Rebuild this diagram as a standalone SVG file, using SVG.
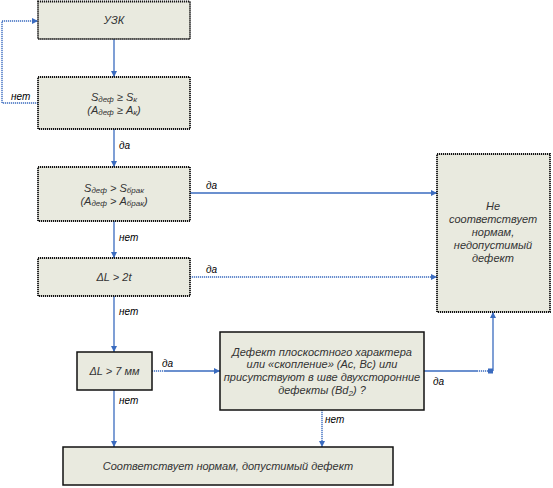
<svg xmlns="http://www.w3.org/2000/svg" width="553" height="488" viewBox="0 0 553 488">
<defs>
<marker id="arr" markerUnits="userSpaceOnUse" markerWidth="7" markerHeight="7" refX="6" refY="3.5" orient="auto">
<path d="M0,0.5 L6,3.5 L0,6.5 z" fill="#3A6BBF"/>
</marker>
</defs>
<style>
.box{fill:#E9EADF;stroke:#111;stroke-width:1.5}
.dot{stroke-width:1.8;stroke-dasharray:1.2 0.8}
.t{font-family:"Liberation Sans",Arial,sans-serif;font-style:italic;font-size:11px;fill:#333;text-anchor:middle}
.s{font-size:8px}
.lbl{font-family:"Liberation Sans",Arial,sans-serif;font-style:italic;font-size:10px;fill:#000}
.c{fill:none;stroke:#3A6BBF;stroke-width:1.3}
.cd{fill:none;stroke:#3A6BBF;stroke-width:1.4;stroke-dasharray:1.2 0.8}
</style>
<g id="connectors">
<path class="c" d="M114,39 V77" marker-end="url(#arr)"/>
<path class="cd" d="M38,103 H2 V21 H38" marker-end="url(#arr)"/>
<path class="c" d="M114,129 V167" marker-end="url(#arr)"/>
<path class="c" d="M190,193 H437" marker-end="url(#arr)"/>
<path class="c" d="M114,221 V258" marker-end="url(#arr)"/>
<path class="cd" d="M190,277 H437" marker-end="url(#arr)"/>
<path class="c" d="M114,296 V352" marker-end="url(#arr)"/>
<path class="cd" d="M152,371 H164"/>
<path class="c" d="M164,371 H220" marker-end="url(#arr)"/>
<path class="c" d="M114,390 V447" marker-end="url(#arr)"/>
<path class="cd" d="M322,410 V447" marker-end="url(#arr)"/>
<path class="c" d="M424,371 H477"/>
<path class="cd" d="M477,371 H491"/>
<path class="c" d="M493,371 V312" marker-end="url(#arr)"/>
<rect x="488" y="368.5" width="5" height="5" fill="#3A6BBF"/>
<text class="lbl" x="11" y="100">нет</text>
<text class="lbl" x="119" y="149">да</text>
<text class="lbl" x="206" y="189">да</text>
<text class="lbl" x="119" y="241">нет</text>
<text class="lbl" x="206" y="273">да</text>
<text class="lbl" x="119" y="315">нет</text>
<text class="lbl" x="162" y="367">да</text>
<text class="lbl" x="119" y="404">нет</text>
<text class="lbl" x="433" y="385">да</text>
<text class="lbl" x="325" y="423">нет</text>
</g>
<g id="uzk">
<rect class="box dot" x="38" y="1.5" width="152" height="37.5"/>
<text class="t" x="114" y="24">УЗК</text>
</g>
<g id="cond1">
<rect class="box dot" x="38" y="77" width="152" height="52"/>
<text class="t" x="114" y="101">S<tspan class="s" dy="1">деф</tspan><tspan dy="-1"> ≥ S</tspan><tspan class="s" dy="1">к</tspan></text>
<text class="t" x="114" y="114">(A<tspan class="s" dy="1">деф</tspan><tspan dy="-1"> ≥ A</tspan><tspan class="s" dy="1">к</tspan><tspan dy="-1">)</tspan></text>
</g>
<g id="cond2">
<rect class="box dot" x="38" y="167" width="152" height="54"/>
<text class="t" x="114" y="192">S<tspan class="s" dy="1">деф</tspan><tspan dy="-1"> &gt; S</tspan><tspan class="s" dy="1">брак</tspan></text>
<text class="t" x="114" y="205">(A<tspan class="s" dy="1">деф</tspan><tspan dy="-1"> &gt; A</tspan><tspan class="s" dy="1">брак</tspan><tspan dy="-1">)</tspan></text>
</g>
<g id="cond3">
<rect class="box dot" x="38" y="258" width="152" height="38"/>
<text class="t" x="114" y="281">ΔL &gt; 2t</text>
</g>
<g id="cond4">
<rect class="box" x="77" y="352" width="75" height="38"/>
<text class="t" x="114.5" y="375">ΔL &gt; 7 мм</text>
</g>
<g id="cond5">
<rect class="box" x="220" y="332" width="204" height="78"/>
<text class="t" x="322" y="356">Дефект плоскостного характера</text>
<text class="t" x="322" y="368">или «скопление» (Ac, Bc) или</text>
<text class="t" x="322" y="381">присутствуют в шве двухсторонние</text>
<text class="t" x="322" y="394">дефекты (Bd<tspan class="s" dy="2">2</tspan><tspan dy="-2">) ?</tspan></text>
</g>
<g id="reject">
<rect class="box dot" x="437" y="154" width="113" height="158"/>
<text class="t" x="493" y="210">Не</text>
<text class="t" x="493" y="223">соответствует</text>
<text class="t" x="493" y="236">нормам,</text>
<text class="t" x="493" y="249">недопустимый</text>
<text class="t" x="493" y="262">дефект</text>
</g>
<g id="accept">
<rect class="box" x="63" y="447" width="330" height="38"/>
<text class="t" x="228" y="470">Соответствует нормам, допустимый дефект</text>
</g>
</svg>
